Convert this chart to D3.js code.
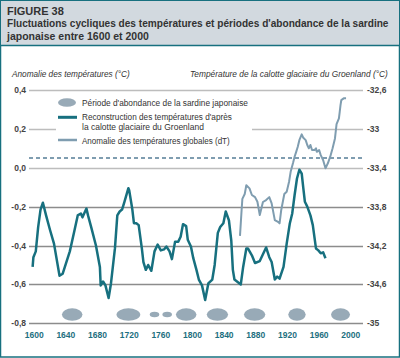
<!DOCTYPE html>
<html>
<head>
<meta charset="utf-8">
<script src="https://cdn.jsdelivr.net/npm/d3@7/dist/d3.min.js"></script>
<style>
  body { margin: 0; background: #fff; }
  text { font-family: "Liberation Sans", Arial, sans-serif; }
</style>
</head>
<body>
<script>
// left axis: global anomaly (°C); right axis: Greenland ice cap temperature (°C)
var leftTicks = [0.4, 0.2, 0.0, -0.2, -0.4, -0.6, -0.8];
var rightTicks = [-32.6, -33, -33.4, -33.8, -34.2, -34.6, -35];
var yearTicks = [1600, 1640, 1680, 1720, 1760, 1800, 1840, 1880, 1920, 1960, 2000];
var refLevel = 0.05;

// Greenland reconstruction (right axis)
var groenYears = [1598, 1599, 1602, 1605, 1608, 1611, 1615, 1620, 1625, 1632, 1636, 1645, 1651, 1655, 1659, 1661, 1666, 1668, 1672, 1678, 1683, 1684, 1687, 1690, 1694, 1697, 1702, 1705, 1708, 1711, 1714, 1719, 1720, 1724, 1726, 1729, 1732, 1736, 1738, 1741, 1744, 1748, 1752, 1756, 1760, 1764, 1767, 1771, 1774, 1778, 1782, 1785, 1788, 1792, 1794, 1798, 1801, 1805, 1808, 1812, 1816, 1820, 1825, 1828, 1832, 1835, 1839, 1842, 1846, 1849, 1851, 1853, 1861, 1864, 1868, 1870, 1875, 1879, 1885, 1889, 1893, 1897, 1900, 1904, 1907, 1910, 1915, 1919, 1923, 1926, 1929, 1932, 1935, 1938, 1940, 1942, 1945, 1949, 1952, 1956, 1959, 1962, 1965, 1968];
var groenTemp = [-34.42, -34.32, -34.26, -34.01, -33.83, -33.76, -33.89, -34.04, -34.18, -34.51, -34.49, -34.26, -34.04, -33.89, -33.87, -33.91, -33.82, -33.89, -34.01, -34.20, -34.42, -34.61, -34.57, -34.61, -34.74, -34.59, -34.23, -33.89, -33.85, -33.83, -33.75, -33.61, -33.63, -33.83, -33.97, -33.97, -33.99, -34.23, -34.37, -34.45, -34.40, -34.46, -34.26, -34.19, -34.25, -34.24, -34.21, -34.26, -34.34, -34.16, -34.16, -34.11, -33.98, -34.00, -34.14, -34.21, -34.33, -34.45, -34.55, -34.61, -34.76, -34.59, -34.55, -34.40, -34.07, -34.01, -33.97, -33.85, -33.94, -34.15, -34.45, -34.55, -34.60, -34.42, -34.23, -34.23, -34.30, -34.38, -34.36, -34.29, -34.22, -34.32, -34.37, -34.55, -34.52, -34.54, -34.42, -34.18, -33.97, -33.87, -33.68, -33.51, -33.42, -33.46, -33.61, -33.75, -33.80, -33.89, -33.99, -34.23, -34.25, -34.28, -34.27, -34.33];

// global temperature anomaly dT (left axis)
var globalYears = [1860, 1862, 1863, 1866, 1868, 1872, 1875, 1879, 1882, 1885, 1889, 1893, 1897, 1900, 1904, 1908, 1910, 1912, 1916, 1919, 1922, 1924, 1927, 1929, 1931, 1933, 1935, 1938, 1940, 1943, 1945, 1947, 1949, 1951, 1954, 1956, 1957, 1960, 1962, 1965, 1968, 1971, 1974, 1977, 1980, 1982, 1985, 1986, 1987, 1988, 1991, 1994];
var globalTemp = [-0.35, -0.22, -0.16, -0.135, -0.09, -0.106, -0.14, -0.151, -0.175, -0.243, -0.176, -0.166, -0.151, -0.183, -0.269, -0.278, -0.286, -0.22, -0.135, -0.123, -0.072, -0.021, 0.024, 0.057, 0.082, 0.108, 0.142, 0.172, 0.154, 0.142, 0.117, 0.1, 0.117, 0.091, 0.091, 0.1, 0.082, 0.091, 0.065, 0.04, -0.003, 0.023, 0.057, 0.1, 0.151, 0.225, 0.254, 0.288, 0.322, 0.348, 0.357, 0.357];

// sardine abundance periods
var sardineStart = [1635, 1704, 1746, 1762, 1779, 1818, 1865, 1921, 1975];
var sardineEnd = [1661, 1734, 1758, 1774, 1805, 1845, 1892, 1943, 1999];

var W = 400, H = 358;
var teal = "#17707f", lightLine = "#7f9db0", ellipseFill = "#98aab7";

var svg = d3.select("body").append("svg")
  .attr("width", W).attr("height", H);

// squeeze a text horizontally so that it spans `width` px from x (anchor start)
function fitText(parent, str, xPos, yPos, width, size, opts) {
  opts = opts || {};
  var g = parent.append("g");
  var t = g.append("text").attr("x", 0).attr("y", 0)
    .attr("fill", opts.fill || "#333")
    .style("font-size", size + "px")
    .style("font-weight", opts.bold ? "bold" : "normal")
    .style("font-style", opts.italic ? "italic" : "normal")
    .text(str);
  var natural = t.node().getComputedTextLength();
  var k = Math.min(1, width / natural);
  var x0 = opts.end ? xPos - natural * k : xPos;
  g.attr("transform", "translate(" + x0 + "," + yPos + ") scale(" + k + ",1)");
  return t;
}

// frame + header
svg.append("rect").attr("x", 0.5).attr("y", 0.5).attr("width", W - 1).attr("height", H - 1.5)
  .attr("fill", "#fff").attr("stroke", teal).attr("stroke-width", 1.5);
svg.append("rect").attr("x", 1).attr("y", 1).attr("width", W - 2).attr("height", 44)
  .attr("fill", "#d2d9df");
svg.append("line").attr("x1", 0).attr("x2", W).attr("y1", 45.5).attr("y2", 45.5)
  .attr("stroke", teal).attr("stroke-width", 1.5);

fitText(svg, "FIGURE 38", 7, 15, 58, 11, { bold: true });
fitText(svg, "Fluctuations cycliques des températures et périodes d'abondance de la sardine", 7, 27, 382, 11, { bold: true });
fitText(svg, "japonaise entre 1600 et 2000", 7, 40, 142, 11, { bold: true });

// scales
var x = d3.scaleLinear().domain([1600, 2000]).range([34.2, 350.8]);
var yL = d3.scaleLinear().domain([-0.8, 0.4]).range([323.3, 90]);
var yR = d3.scaleLinear().domain([-35, -32.6]).range([323.3, 90]);
var gx0 = 29, gx1 = 363;

// axis titles
fitText(svg, "Anomalie des températures (°C)", 12, 77, 118, 9.5, { italic: true });
fitText(svg, "Température de la calotte glaciaire du Groenland (°C)", 388, 77, 198, 9.5, { italic: true, end: true });

// grid
var grid = svg.append("g");
grid.selectAll("line").data(leftTicks).enter().append("line")
  .attr("x1", gx0).attr("x2", gx1)
  .attr("y1", function(d) { return Math.round(yL(d)) + 0.5; })
  .attr("y2", function(d) { return Math.round(yL(d)) + 0.5; })
  .attr("stroke", function(d) { return d >= 0 ? "#bdbdbd" : "#8c8c8c"; })
  .attr("stroke-width", 1.3);

var fmt = function(d) { return d3.format(".1f")(d).replace(".", ",").replace("−", "-"); };
svg.append("g").selectAll("text").data(leftTicks).enter().append("text")
  .attr("x", 26).attr("y", function(d) { return yL(d) + 3; })
  .attr("text-anchor", "end").attr("fill", "#444")
  .style("font-size", "8.5px").style("font-weight", "bold")
  .text(fmt);
svg.append("g").selectAll("text").data(rightTicks).enter().append("text")
  .attr("x", 367).attr("y", function(d) { return yR(d) + 3; })
  .attr("fill", "#444")
  .style("font-size", "8.5px").style("font-weight", "bold")
  .text(function(d) { return String(d).replace(".", ","); });

// reference dashed level
svg.append("line").attr("x1", gx0).attr("x2", gx1)
  .attr("y1", yL(refLevel)).attr("y2", yL(refLevel))
  .attr("stroke", lightLine).attr("stroke-width", 2)
  .attr("stroke-dasharray", "4,3");

// legend (covers part of the 0,2 grid line)
svg.append("rect").attr("x", 56).attr("y", 95).attr("width", 196).attr("height", 53).attr("fill", "#fff");
var lg = svg.append("g");
lg.append("ellipse").attr("cx", 67).attr("cy", 102.5).attr("rx", 9).attr("ry", 4.3).attr("fill", ellipseFill);
lg.append("line").attr("x1", 58).attr("x2", 77).attr("y1", 117.3).attr("y2", 117.3)
  .attr("stroke", teal).attr("stroke-width", 3);
lg.append("line").attr("x1", 58).attr("x2", 77).attr("y1", 140).attr("y2", 140)
  .attr("stroke", lightLine).attr("stroke-width", 2.5);
var legendText = [
  ["Période d'abondance de la sardine japonaise", 105.5, 166],
  ["Reconstruction des températures d'après", 120, 150],
  ["la calotte glaciaire du Groenland", 130, 122],
  ["Anomalie des températures globales (dT)", 143.5, 148]
];
legendText.forEach(function(d) { fitText(lg, d[0], 82, d[1], d[2], 9); });

// sardine abundance ellipses
var sardines = sardineStart.map(function(s, i) { return { start: s, end: sardineEnd[i] }; });
svg.append("g").selectAll("ellipse").data(sardines).enter().append("ellipse")
  .attr("cx", function(d) { return x((d.start + d.end) / 2); })
  .attr("cy", yL(-0.755))
  .attr("rx", function(d) { return (x(d.end) - x(d.start)) / 2; })
  .attr("ry", function(d) { return d.end - d.start < 15 ? 2.8 : 6.2; })
  .attr("fill", ellipseFill);

// curves
var groen = groenYears.map(function(yr, i) { return [yr, groenTemp[i]]; });
var glob = globalYears.map(function(yr, i) { return [yr, globalTemp[i]]; });

svg.append("path").datum(glob)
  .attr("fill", "none").attr("stroke", lightLine).attr("stroke-width", 2)
  .attr("stroke-linejoin", "round")
  .attr("d", d3.line().x(function(d) { return x(d[0]); }).y(function(d) { return yL(d[1]); }));

svg.append("path").datum(groen)
  .attr("fill", "none").attr("stroke", teal).attr("stroke-width", 2.5)
  .attr("stroke-linejoin", "round")
  .attr("d", d3.line().x(function(d) { return x(d[0]); }).y(function(d) { return yR(d[1]); }));

// x labels
svg.append("g").selectAll("text").data(yearTicks).enter().append("text")
  .attr("x", function(d) { return x(d); }).attr("y", 337.5)
  .attr("text-anchor", "middle").attr("fill", "#1d6f80")
  .style("font-size", "8.5px").style("font-weight", "bold")
  .text(function(d) { return d; });
</script>
</body>
</html>
